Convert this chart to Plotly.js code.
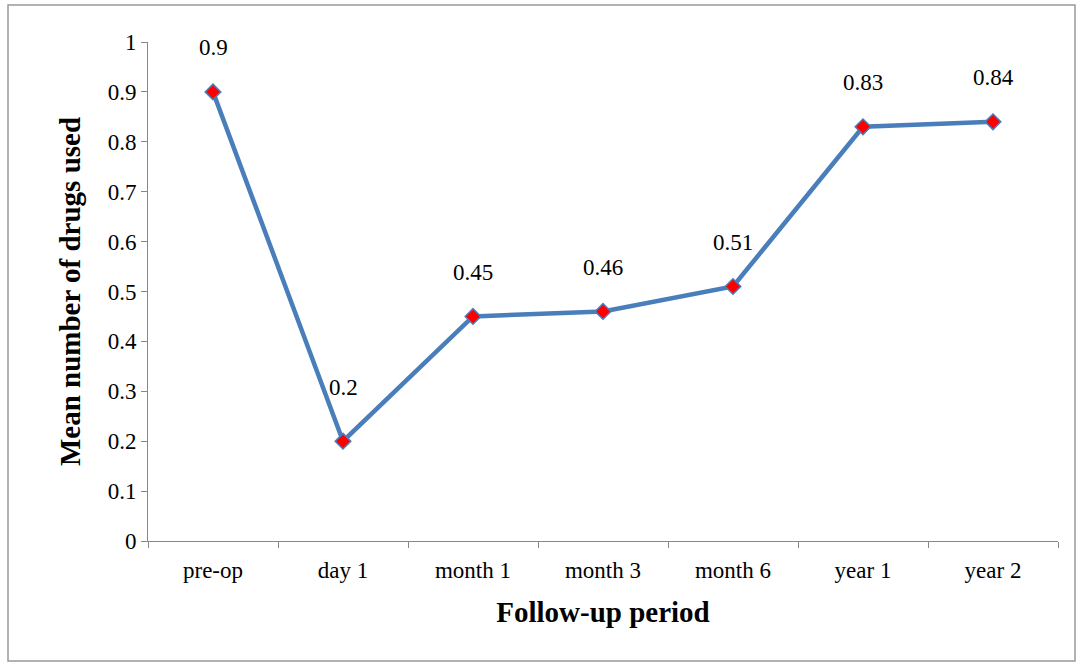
<!DOCTYPE html>
<html>
<head>
<script src="https://cdn.plot.ly/plotly-3.0.1.min.js"></script>
<style>body{margin:0}</style>
</head>
<body>
<div id="chart" style="width:1080px;height:666px"></div>
<script>
const periods = ['pre-op', 'day 1', 'month 1', 'month 3', 'month 6', 'year 1', 'year 2']
const meanDrugs = [0.9, 0.2, 0.45, 0.46, 0.51, 0.83, 0.84]
const labels = ['0.9', '0.2', '0.45', '0.46', '0.51', '0.83', '0.84']

let trace = {
  x: periods,
  y: meanDrugs,
  type: 'scatter',
  mode: 'lines+markers',
  line: {color: '#4a7ebb', width: 4.5},
  marker: {symbol: 'diamond', size: 12, color: '#ff0000', line: {color: '#4a7ebb', width: 1.5}},
  cliponaxis: false
}

let annotations = periods.map((p, i) => ({
  x: p, y: meanDrugs[i], text: labels[i], showarrow: false,
  yshift: i === 1 ? 54 : 44, font: {family: 'Liberation Serif', size: 23, color: '#000'}
}))

let layout = {
  width: 1080,
  height: 666,
  margin: {l: 148, r: 22, t: 42, b: 125},
  font: {family: 'Liberation Serif', size: 23, color: '#000'},
  showlegend: false,
  plot_bgcolor: '#fff',
  paper_bgcolor: '#fff',
  annotations: annotations,
  xaxis: {
    range: [-0.5, 6.5],
    showline: true, linecolor: '#888', linewidth: 1,
    ticks: 'outside', tickson: 'boundaries', ticklen: 6, tickcolor: '#888',
    ticklabelstandoff: 8,
    showgrid: false,
    title: {text: '<b>Follow-up period</b>', font: {size: 29}, standoff: 20}
  },
  yaxis: {
    range: [0, 1], dtick: 0.1,
    showline: true, linecolor: '#888', linewidth: 1,
    ticks: 'outside', ticklen: 6, tickcolor: '#888',
    showgrid: false, zeroline: false,
    title: {text: '<b>Mean number of drugs used</b>', font: {size: 29}, standoff: 18}
  },
  shapes: [{
    type: 'rect', xref: 'paper', yref: 'paper',
    x0: -140 / 910, x1: 1 + 17 / 910, y0: -120 / 499, y1: 1 + 37 / 499,
    line: {color: '#999', width: 1.5}
  }]
}

Plotly.newPlot('chart', [trace], layout, {displayModeBar: false})
</script>
</body>
</html>
